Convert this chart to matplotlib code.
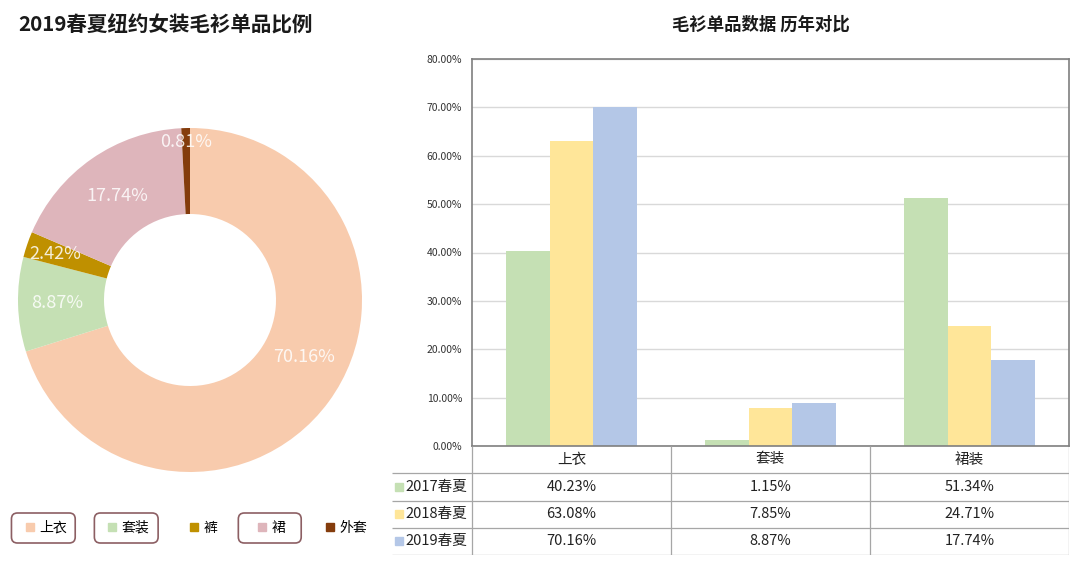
import numpy as np
import matplotlib.pyplot as plt
from matplotlib.patches import FancyBboxPatch
from matplotlib.lines import Line2D
from matplotlib.ticker import FuncFormatter

plt.rcParams['font.family'] = ['Noto Sans CJK SC', 'DejaVu Sans']

# donut: 2019 share by item
pie_labels = ['上衣', '套装', '裤', '裙', '外套']
pie_values = [70.16, 8.87, 2.42, 17.74, 0.81]
pie_colors = ['#F8CBAD', '#C5E0B4', '#BF9000', '#DEB5BB', '#843C0C']
label_dist = [0.74, 0.77, 0.83, 0.74, 0.92]
label_turn = [9.5, 0, 0, 0, 0]   # degrees, nudges label off the wedge middle

# bars + table: year over year
categories = ['上衣', '套装', '裙装']
seasons = ['2017春夏', '2018春夏', '2019春夏']
share_2017 = [40.23, 1.15, 51.34]
share_2018 = [63.08, 7.85, 24.71]
share_2019 = [70.16, 8.87, 17.74]
bar_colors = ['#C5E0B4', '#FFE699', '#B4C7E7']

W, H = 1080, 561
fig = plt.figure(figsize=(W / 100, H / 100), dpi=100)


def px_axes(x0, y0, x1, y1):
    # axes placed by pixel box (top-left origin)
    return fig.add_axes([x0 / W, 1 - y1 / H, (x1 - x0) / W, (y1 - y0) / H])


# ---- left: donut ----
fig.text(18 / W, 1 - 25 / H, '2019春夏纽约女装毛衫单品比例', fontsize=14.8,
         fontweight='bold', ha='left', va='center', color='#1a1a1a')

ax_pie = px_axes(18, 128, 362, 472)
wedges, texts, autotexts = ax_pie.pie(
    pie_values, colors=pie_colors, startangle=90, counterclock=False,
    wedgeprops=dict(width=0.5, edgecolor='none'), autopct='%.2f%%',
    textprops=dict(color='white', fontsize=13, alpha=0.85))
for wdg, t, d, turn in zip(wedges, autotexts, label_dist, label_turn):
    ang = np.deg2rad((wdg.theta1 + wdg.theta2) / 2 + turn)
    t.set_position((d * np.cos(ang), d * np.sin(ang)))
ax_pie.set_xlim(-1, 1)
ax_pie.set_ylim(-1, 1)

handles = [Line2D([], [], marker='s', ls='none', color=c, markersize=6) for c in pie_colors]
leg = fig.legend(handles, pie_labels, loc='center', bbox_to_anchor=(196 / W, 1 - 528 / H),
                 ncol=5, frameon=False, fontsize=10, handlelength=0.8,
                 handletextpad=0.25, columnspacing=2.85)

# rounded boxes around some legend entries
overlay = fig.add_axes([0, 0, 1, 1], zorder=-1)
overlay.set_xlim(0, W)
overlay.set_ylim(0, H)
overlay.axis('off')
fig.canvas.draw()
renderer = fig.canvas.get_renderer()
boxed = {0: (28, 8), 1: (27, 9), 3: (33, 16)}
for i, (lpad, rpad) in boxed.items():
    bb = leg.get_texts()[i].get_window_extent(renderer)
    yc = (bb.y0 + bb.y1) / 2
    overlay.add_patch(FancyBboxPatch((bb.x0 - lpad, yc - 15), bb.width + lpad + rpad, 30,
                                     boxstyle='round,pad=0,rounding_size=6',
                                     fc='white', ec='#8C5F63', lw=1.2))

# ---- right: bars ----
fig.text(761 / W, 1 - 25 / H, '毛衫单品数据 历年对比', fontsize=12.5,
         fontweight='bold', ha='center', va='center', color='#1a1a1a')

ax = px_axes(472, 59, 1069, 446)
x = np.arange(len(categories))
w = 0.221
series = [share_2017, share_2018, share_2019]
for i, (vals, c) in enumerate(zip(series, bar_colors)):
    ax.bar(x + (i - 1) * w, np.array(vals) / 100, w, color=c, zorder=2)
ax.set_xlim(-0.5, 2.5)
ax.set_ylim(0, 0.8)
ax.set_yticks(np.arange(0, 0.81, 0.1))
ax.yaxis.set_major_formatter(FuncFormatter(lambda v, p: f'{v * 100:.2f}%'))
ax.tick_params(axis='y', length=0, labelsize=7.5, pad=7, labelcolor='#333333')
ax.set_xticks([])
ax.grid(axis='y', color='#D9D9D9', lw=1, zorder=0)
for s in ax.spines.values():
    s.set_color('#7F7F7F')
    s.set_linewidth(1.2)

# ---- data table under the bars ----
left_ext = (472 - 392) / (1069 - 472) * 3
tb = px_axes(392, 446, 1069, 555)
xmin = -0.5 - left_ext
tb.set_xlim(xmin, 2.5)
tb.set_ylim(4, 0)
tb.axis('off')
line_c = '#A6A6A6'
tb.hlines([1, 2, 3, 4], xmin, 2.5, color=line_c, lw=0.9)
tb.vlines([-0.5, 0.5, 1.5, 2.5], 0, 4, color=line_c, lw=0.9)
for j, cat in enumerate(categories):
    tb.text(j, 0.5, cat, ha='center', va='center', fontsize=10.5, color='#222222')
unit = 3 / (1069 - 472)
for r, (name, vals, c) in enumerate(zip(seasons, series, bar_colors)):
    yc = r + 1.5
    tb.plot([xmin + 7 * unit], [yc], marker='s', ms=5.5, color=c, ls='none')
    tb.text(xmin + 13 * unit, yc, name, ha='left', va='center', fontsize=10.5, color='#222222')
    for j, v in enumerate(vals):
        tb.text(j, yc, f'{v:.2f}%', ha='center', va='center', fontsize=10.5, color='#222222')

fig.savefig('out.png', dpi=100)
